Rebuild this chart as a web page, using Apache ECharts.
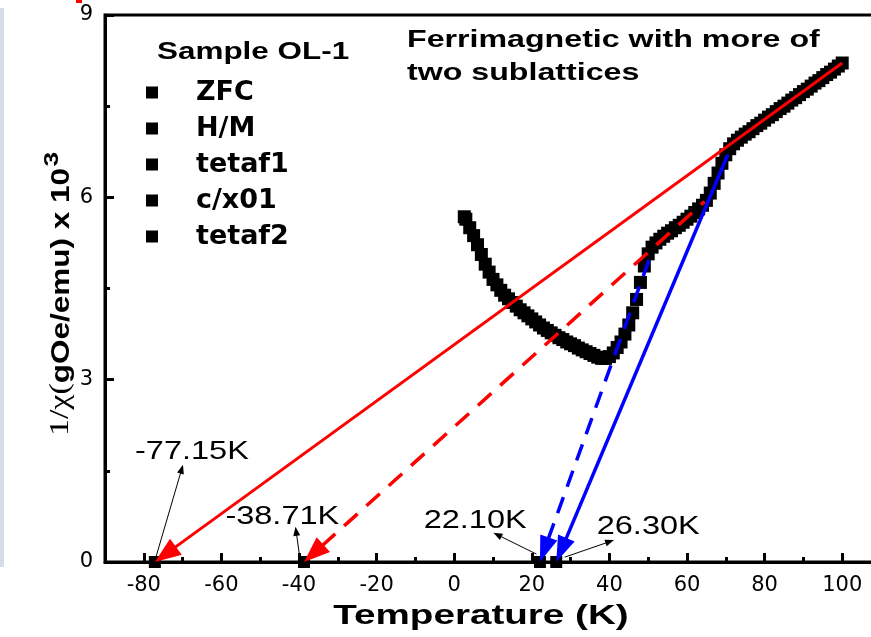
<!DOCTYPE html>
<html>
<head>
<meta charset="utf-8">
<script src="https://cdn.jsdelivr.net/npm/echarts@6/dist/echarts.min.js"></script>
<style>
  html, body { margin: 0; padding: 0; background: #fff; }
  #chart { width: 871px; height: 637px; }
</style>
</head>
<body>
<div id="chart"></div>
<script>
// ---------- data ----------
const zfcTemp = [2.6, 3, 4, 5, 6, 7, 8, 9, 10, 11, 12, 13, 14, 15, 16, 17, 18, 19, 20,
  21, 22, 23, 24, 25, 26, 27, 28, 29, 30, 31, 32, 33, 34, 35, 36, 37, 38, 39, 40,
  41, 42, 43, 44, 45, 46, 47, 48, 49, 50, 51, 52, 53, 54, 55, 56, 57, 58, 59, 60,
  61, 62, 63, 64, 65, 66, 67, 68, 69, 70, 71, 72, 73, 74, 75, 76, 77, 78, 79, 80,
  81, 82, 83, 84, 85, 86, 87, 88, 89, 90, 91, 92, 93, 94, 95, 96, 97, 98, 99, 100];
const zfcInvChi = [5.68, 5.64, 5.50, 5.37, 5.22, 5.06, 4.90, 4.77, 4.65, 4.56, 4.47, 4.39, 4.33, 4.27, 4.21, 4.15, 4.10, 4.05, 4.00,
  3.95, 3.90, 3.85, 3.81, 3.77, 3.73, 3.69, 3.66, 3.62, 3.59, 3.56, 3.52, 3.49, 3.46, 3.43, 3.40, 3.37, 3.35, 3.35, 3.38,
  3.44, 3.53, 3.62, 3.75, 3.90, 4.10, 4.32, 4.60, 4.87, 5.07, 5.18, 5.25, 5.31, 5.36, 5.41, 5.45, 5.50, 5.54, 5.59, 5.64,
  5.69, 5.75, 5.81, 5.87, 5.95, 6.07, 6.23, 6.40, 6.56, 6.70, 6.80, 6.88, 6.94, 6.99, 7.04, 7.08, 7.13, 7.18, 7.22, 7.27,
  7.32, 7.36, 7.41, 7.46, 7.50, 7.55, 7.60, 7.64, 7.69, 7.74, 7.78, 7.83, 7.88, 7.92, 7.97, 8.02, 8.06, 8.11, 8.16, 8.21];

// intercept points (series name -> temperature at 1/chi = 0)
const interceptNames = ['H/M', 'tetaf1', 'c/x01', 'tetaf2'];
const interceptTemps = [-77.15, -38.71, 22.10, 26.30];
const interceptLabels = ['-77.15K', '-38.71K', '22.10K', '26.30K'];

// fitted lines: [x-intercept point, upper end point]
const redSolidLine = [-77.15, 0, 100, 8.21];
const redDashedLine = [-38.71, 0, 64.5, 5.93];
const blueSolidLine = [26.30, 0, 70.5, 6.70];
const blueDashedLine = [22.10, 0, 50.5, 5.02];

// label anchor points (data coords) and pointer arrows [tipX, tipY, tailX, tailY]
const labelAnchorT = [-67.6, -44.3, 5.4, 50.0];
const labelAnchorV = [1.81, 0.74, 0.67, 0.57];
const pointerArrows = [
  [-69.9, 1.60, -77.15, 0.02],
  [-40.9, 0.58, -39.9, 0.12],
  [10.1, 0.48, 21.2, 0.13],
  [41.2, 0.36, 28.5, 0.08]
];

const xMajorTicks = [-80, -60, -40, -20, 0, 20, 40, 60, 80, 100];
const xMinorTicks = [-70, -50, -30, -10, 10, 30, 50, 70, 90];
const legendNames = ['ZFC', 'H/M', 'tetaf1', 'c/x01', 'tetaf2'];

// ---------- helpers ----------
function arrowRenderer(color, width, dash, headLen, headHalf) {
  return function (params, api) {
    const tip = api.coord([api.value(0), api.value(1)]);
    const tail = api.coord([api.value(2), api.value(3)]);
    const dx = tail[0] - tip[0], dy = tail[1] - tip[1];
    const L = Math.sqrt(dx * dx + dy * dy) || 1;
    const ux = dx / L, uy = dy / L;
    const base = [tip[0] + ux * headLen, tip[1] + uy * headLen];
    const left = [base[0] - uy * headHalf, base[1] + ux * headHalf];
    const right = [base[0] + uy * headHalf, base[1] - ux * headHalf];
    return {
      type: 'group',
      children: [
        { type: 'line', shape: { x1: base[0] - ux * 2, y1: base[1] - uy * 2, x2: tail[0], y2: tail[1] },
          style: { stroke: color, lineWidth: width, lineDash: dash, lineCap: 'butt' } },
        { type: 'polygon', shape: { points: [tip, left, right] }, style: { fill: color } }
      ]
    };
  };
}

const SANS = "'Liberation Sans', Arial, Helvetica, sans-serif";
const WIDE = "'DejaVu Sans', sans-serif";

const chart = echarts.init(document.getElementById('chart'), null, { renderer: 'canvas' });

const series = [];
series.push({
  name: 'ZFC', type: 'scatter', symbol: 'rect', symbolSize: 13,
  itemStyle: { color: '#000', opacity: 1 }, z: 2,
  data: zfcTemp.map((t, i) => [t, zfcInvChi[i]])
});
interceptNames.forEach((n, i) => {
  series.push({
    name: n, type: 'scatter', symbol: 'rect', symbolSize: 12,
    itemStyle: { color: '#000', opacity: 1 }, z: 2,
    data: [[interceptTemps[i], 0]]
  });
});
series.push({ type: 'custom', z: 5, silent: true, renderItem: arrowRenderer('#ff0000', 3, null, 26, 10), data: [redSolidLine] });
series.push({ type: 'custom', z: 5, silent: true, renderItem: arrowRenderer('#ff0000', 3.5, [18, 12], 26, 10), data: [redDashedLine] });
series.push({ type: 'custom', z: 5, silent: true, renderItem: arrowRenderer('#0000ff', 3.5, null, 26, 9), data: [blueSolidLine] });
series.push({ type: 'custom', z: 5, silent: true, renderItem: arrowRenderer('#0000ff', 3.5, [17, 11], 26, 9), data: [blueDashedLine] });
series.push({ type: 'custom', z: 6, silent: true, renderItem: arrowRenderer('#000', 1, null, 9, 3.5), data: pointerArrows });
series.push({
  type: 'custom', z: 6, silent: true,
  data: labelAnchorT.map((t, i) => [t, labelAnchorV[i]]),
  renderItem: function (params, api) {
    const p = api.coord([api.value(0), api.value(1)]);
    return {
      type: 'text', x: p[0], y: p[1], scaleX: 1.3,
      style: { text: interceptLabels[params.dataIndex], fontFamily: SANS, fontSize: 25,
               fill: '#000', align: 'center', verticalAlign: 'middle' }
    };
  }
});

const option = {
  animation: false,
  backgroundColor: '#fff',
  grid: { left: 105, right: -10, top: 15, bottom: 75, outerBoundsMode: 'none', containLabel: false,
          show: true, borderColor: '#000', borderWidth: 3, backgroundColor: 'transparent' },
  legend: {
    data: legendNames, orient: 'vertical', left: 141, top: 74,
    icon: 'rect', itemWidth: 12, itemHeight: 12, itemGap: 9, selectedMode: false,
    textStyle: { fontFamily: WIDE, fontWeight: 'bold', fontSize: 27, color: '#000',
                 padding: [0, 0, 0, 33] }
  },
  xAxis: [{
    type: 'value', min: -90, max: 110, gridIndex: 0, position: 'bottom',
    axisLine: { show: true, onZero: false, lineStyle: { color: '#000', width: 3 } },
    axisTick: { show: true, inside: true, length: 9, lineStyle: { color: '#000', width: 3 }, customValues: xMajorTicks },
    axisLabel: { show: true, customValues: xMajorTicks, margin: 13, color: '#000', fontFamily: WIDE, fontSize: 21 },
    splitLine: { show: false }
  }, {
    type: 'value', min: -90, max: 110, gridIndex: 0, position: 'bottom',
    axisLine: { show: false, onZero: false },
    axisTick: { show: true, inside: true, length: 5, lineStyle: { color: '#000', width: 3 }, customValues: xMinorTicks },
    axisLabel: { show: false },
    splitLine: { show: false }
  }],
  yAxis: {
    type: 'value', min: 0, max: 9, interval: 3,
    axisLine: { show: true, onZero: false, lineStyle: { color: '#000', width: 3 } },
    axisTick: { show: true, inside: true, length: 9, lineStyle: { color: '#000', width: 3 } },
    minorTick: { show: true, splitNumber: 2, length: 5, lineStyle: { color: '#000', width: 3 } },
    axisLabel: { margin: 12, color: '#000', fontFamily: WIDE, fontSize: 21 },
    splitLine: { show: false }
  },
  graphic: [
    { type: 'rect', left: 0, top: 8, shape: { width: 4, height: 559 }, style: { fill: '#d5dce6' }, silent: true },
    { type: 'rect', left: 76, top: 0, shape: { width: 6, height: 3 }, style: { fill: '#ff0000' }, silent: true },
    { type: 'text', x: 157, y: 52, scaleX: 1.31, silent: true,
      style: { text: 'Sample OL-1', fontFamily: SANS, fontWeight: 'bold', fontSize: 24, fill: '#000', align: 'left', verticalAlign: 'middle' } },
    { type: 'text', x: 407, y: 40, scaleX: 1.34, silent: true,
      style: { text: 'Ferrimagnetic with more of', fontFamily: SANS, fontWeight: 'bold', fontSize: 24, fill: '#000', align: 'left', verticalAlign: 'middle' } },
    { type: 'text', x: 407, y: 73, scaleX: 1.34, silent: true,
      style: { text: 'two sublattices', fontFamily: SANS, fontWeight: 'bold', fontSize: 24, fill: '#000', align: 'left', verticalAlign: 'middle' } },
    { type: 'text', x: 481, y: 617, scaleX: 1.43, silent: true,
      style: { text: 'Temperature (K)', fontFamily: SANS, fontWeight: 'bold', fontSize: 27, fill: '#000', align: 'center', verticalAlign: 'middle' } },
    { type: 'text', x: 58, y: 294, rotation: Math.PI / 2, scaleX: 1.26, silent: true,
      style: {
        text: '{a|1/χ(}{b|gOe/emu) x 10}{c|3}',
        align: 'center', verticalAlign: 'middle', fill: '#000',
        rich: {
          a: { fontFamily: "'Liberation Serif', 'Times New Roman', serif", fontSize: 27, fill: '#000', verticalAlign: 'bottom' },
          b: { fontFamily: SANS, fontWeight: 'bold', fontSize: 25, fill: '#000', verticalAlign: 'bottom' },
          c: { fontFamily: SANS, fontWeight: 'bold', fontSize: 21, fill: '#000', verticalAlign: 'bottom', padding: [0, 0, 12, 1] }
        }
      } }
  ],
  series: series
};
chart.setOption(option);
</script>
</body>
</html>
